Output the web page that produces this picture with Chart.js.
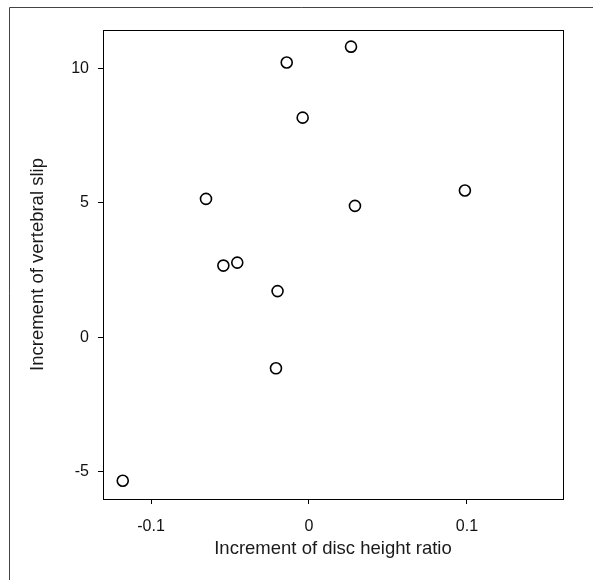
<!DOCTYPE html>
<html>
<head>
<meta charset="utf-8">
<script src="https://cdn.jsdelivr.net/npm/chart.js@4.4.1/dist/chart.umd.min.js"></script>
<style>
  html, body { margin: 0; padding: 0; background: #fff; }
  #wrap { position: relative; width: 593px; height: 580px; }
  canvas { display: block; }
</style>
</head>
<body>
<div id="wrap"><canvas id="c" width="593" height="580"></canvas></div>
<script>
// Data
const discHeightIncrement = [0.0266, -0.0141, -0.0040, -0.0652, 0.0987, 0.0291, -0.0542, -0.0454, -0.0199, -0.0209, -0.1179];
const vertebralSlipIncrement = [10.80, 10.21, 8.16, 5.14, 5.45, 4.88, 2.66, 2.77, 1.71, -1.16, -5.34];
const xTickValues = [-0.1, 0, 0.1];
const yTickValues = [-5, 0, 5, 10];
const xTickLabels = ['-0.1', '0', '0.1'];
const yTickLabels = ['-5', '0', '5', '10'];
const xTitle = 'Increment of disc height ratio';
const yTitle = 'Increment of vertebral slip';

const points = discHeightIncrement.map((x, i) => ({ x: x, y: vertebralSlipIncrement[i] }));

const FONT = '"Liberation Sans Narrow", "Liberation Sans", Arial, sans-serif';

const framePlugin = {
  id: 'frame',
  beforeDraw(chart) {
    const ctx = chart.ctx;
    ctx.save();
    ctx.strokeStyle = '#444';
    ctx.lineWidth = 1;
    ctx.beginPath();
    ctx.moveTo(9.5, 580);
    ctx.lineTo(9.5, 7.5);
    ctx.lineTo(593, 7.5);
    ctx.stroke();
    ctx.restore();
  },
  afterDatasetsDraw(chart) {
    const a = chart.chartArea;
    const ctx = chart.ctx;
    ctx.save();
    ctx.strokeStyle = '#000';
    ctx.lineWidth = 1;
    ctx.strokeRect(Math.round(a.left) + 0.5, Math.round(a.top) + 0.5, Math.round(a.right - a.left), Math.round(a.bottom - a.top));
    ctx.restore();
  }
};

new Chart(document.getElementById('c'), {
  type: 'scatter',
  data: {
    datasets: [{
      data: points,
      pointStyle: 'circle',
      pointRadius: 5.5,
      pointHoverRadius: 5.5,
      pointBorderWidth: 1.6,
      borderColor: '#000',
      backgroundColor: 'rgba(255,255,255,0)'
    }]
  },
  options: {
    responsive: false,
    animation: false,
    events: [],
    layout: { padding: { left: 0, right: 30, top: 30, bottom: 0 } },
    plugins: { legend: { display: false }, tooltip: { enabled: false } },
    scales: {
      x: {
        type: 'linear',
        min: -0.1304,
        max: 0.1608,
        afterFit(scale) { scale.height = 81; },
        afterBuildTicks(scale) { scale.ticks = xTickValues.map(v => ({ value: v })); },
        grid: { drawOnChartArea: false, drawTicks: true, tickLength: 5, color: '#000', lineWidth: 1 },
        border: { display: true, color: '#000' },
        ticks: {
          color: '#111',
          font: { family: FONT, size: 16 },
          padding: 13,
          maxRotation: 0,
          callback: (v) => { const i = xTickValues.findIndex(t => Math.abs(t - v) < 1e-9); return i >= 0 ? xTickLabels[i] : ''; }
        },
        title: {
          display: true,
          text: xTitle,
          color: '#1a1a1a',
          font: { family: FONT, size: 18.5 },
          padding: { top: 0, bottom: 20 }
        }
      },
      y: {
        type: 'linear',
        min: -6.02,
        max: 11.42,
        afterFit(scale) { scale.width = 103; },
        afterBuildTicks(scale) { scale.ticks = yTickValues.map(v => ({ value: v })); },
        grid: { drawOnChartArea: false, drawTicks: true, tickLength: 5, color: '#000', lineWidth: 1 },
        border: { display: true, color: '#000' },
        ticks: {
          color: '#111',
          font: { family: FONT, size: 16 },
          padding: 9,
          callback: (v) => { const i = yTickValues.findIndex(t => Math.abs(t - v) < 1e-9); return i >= 0 ? yTickLabels[i] : ''; }
        },
        title: {
          display: true,
          text: yTitle,
          color: '#1a1a1a',
          font: { family: FONT, size: 18.5 },
          padding: { top: 27, bottom: 0 }
        }
      }
    }
  },
  plugins: [framePlugin]
});
</script>
</body>
</html>
